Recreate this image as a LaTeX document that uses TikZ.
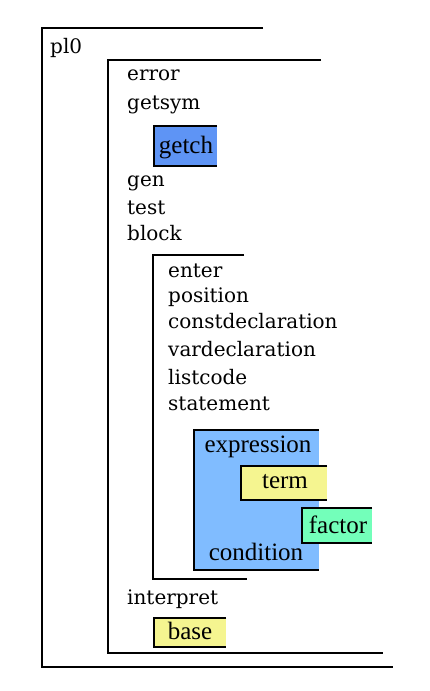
\documentclass[tikz,border=0pt]{standalone}
\usepackage{fontspec}
\setmainfont{Liberation Serif}
\newfontfamily\listfont{DejaVu Serif}
\usepackage{xcolor}
\usetikzlibrary{positioning}
\definecolor{getchblue}{HTML}{5E94F5}
\definecolor{exprblue}{HTML}{80BCFF}
\definecolor{termyellow}{HTML}{F5F590}
\definecolor{factorgreen}{HTML}{73FFBA}

\begin{document}
\begin{tikzpicture}[x=1pt,y=-1pt,
    frame/.style={line width=1.8pt},
    item/.style={anchor=base west,inner sep=0pt,font=\listfont\fontsize{20}{22}\selectfont},
    boxtext/.style={anchor=base,inner sep=0pt,font=\fontsize{25}{27}\selectfont}]
    \useasboundingbox (0,0) rectangle (430,691);

    % pl0
    \draw[frame] (263,28) -- (42,28) -- (42,667) -- (393,667);
    \node[item] (pl0) at (50,53) {pl0};

    % procedures of pl0
    \draw[frame] (321,60) -- (108,60) -- (108,653) -- (383,653);
    \node[item] (error) at (127,80) {error};
    \node[item] (getsym) at (127,109) {getsym};
    \fill[getchblue] (154,126) rectangle (217,166);
    \draw[frame] (217,126) -- (154,126) -- (154,166) -- (217,166);
    \node[boxtext] (getch) at (186,153) {getch};
    \node[item] (gen) at (127,186) {gen};
    \node[item] (test) at (127,214) {test};
    \node[item] (block) at (127,240) {block};
    \node[item] (interpret) at (127,604) {interpret};
    \fill[termyellow] (154,618) rectangle (226,647);
    \draw[frame] (226,618) -- (154,618) -- (154,647) -- (226,647);
    \node[boxtext] (base) at (190,639) {base};

    % procedures of block
    \draw[frame] (244,255) -- (153,255) -- (153,579) -- (247,579);
    \node[item] (enter) at (168,277) {enter};
    \node[item] (position) at (168,302) {position};
    \node[item] (constdecl) at (168,328) {constdeclaration};
    \node[item] (vardecl) at (168,356) {vardeclaration};
    \node[item] (listcode) at (168,384) {listcode};
    \node[item] (statement) at (168,410) {statement};

    % expression, term, factor, condition
    \fill[exprblue] (194,430) rectangle (319,570);
    \draw[frame] (319,430) -- (194,430) -- (194,570) -- (319,570);
    \node[boxtext] (expression) at (258,452) {expression};
    \node[boxtext] (condition) at (256,560) {condition};
    \fill[termyellow] (241,466) rectangle (327,500);
    \draw[frame] (327,466) -- (241,466) -- (241,500) -- (327,500);
    \node[boxtext] (term) at (285,488) {term};
    \fill[factorgreen] (302,508) rectangle (372,543);
    \draw[frame] (372,508) -- (302,508) -- (302,543) -- (372,543);
    \node[boxtext] (factor) at (338,533) {factor};
\end{tikzpicture}
\end{document}
